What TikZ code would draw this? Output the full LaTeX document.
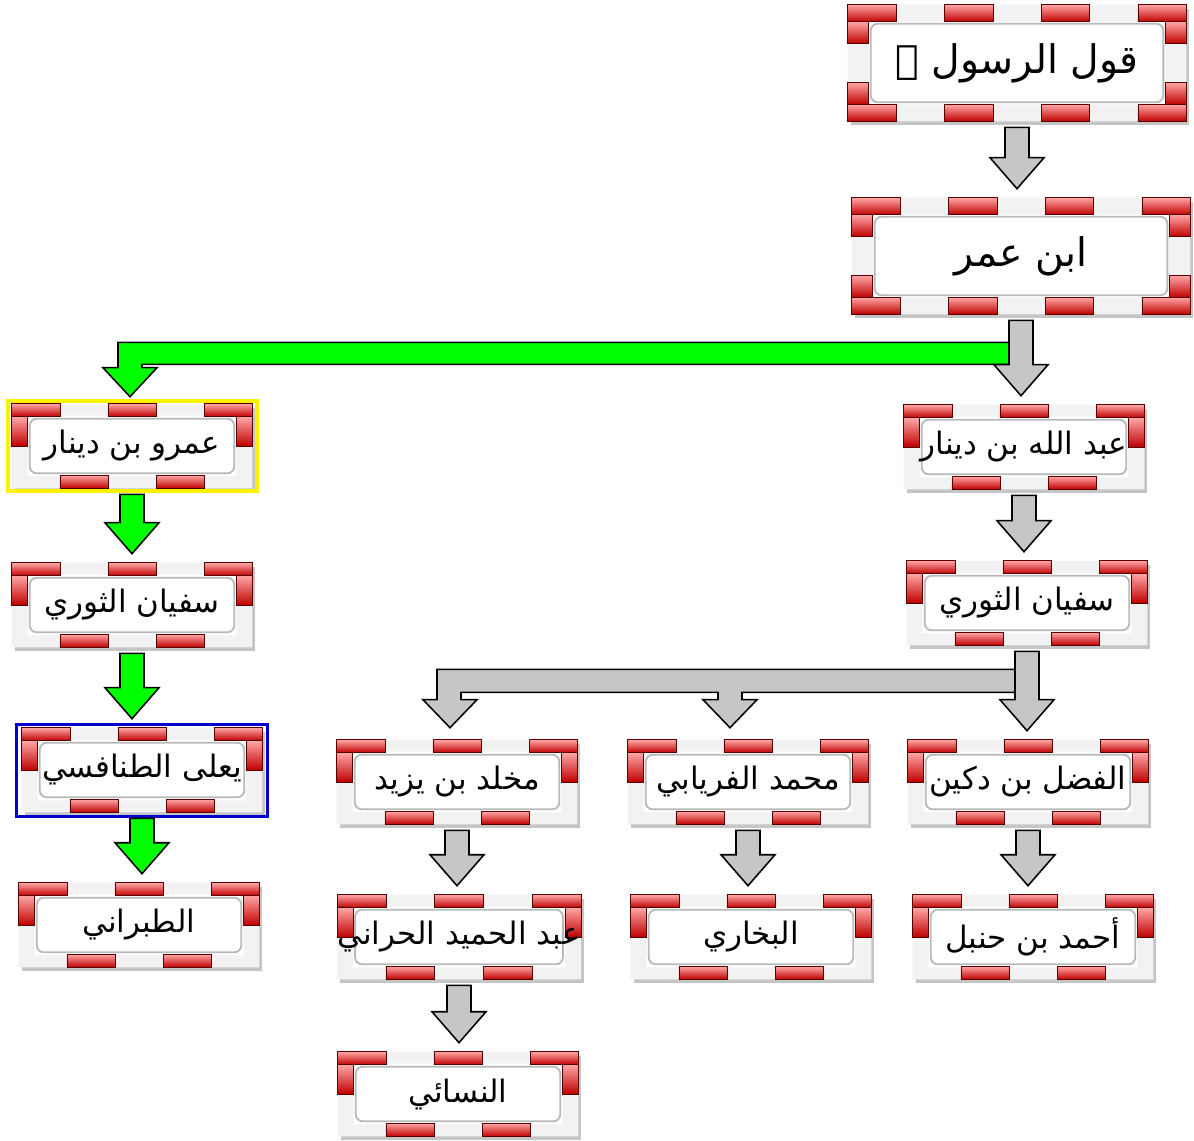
\documentclass[tikz,border=0pt]{standalone}
\usepackage{fontspec}
\newfontfamily\arabicfont[Script=Arabic]{DejaVu Sans}
\TeXXeTstate=1
\usetikzlibrary{calc, backgrounds}

\begin{document}
\begin{tikzpicture}[x=0.025cm, y=-0.025cm,
  isnad/.style={rectangle, inner sep=0pt,
    minimum width=6cm, minimum height=2.1cm,
    font=\arabicfont\fontsize{22}{26}\selectfont},
  bigisnad/.style={isnad, minimum width=8.45cm, minimum height=2.9cm,
    font=\arabicfont\fontsize{28}{32}\selectfont},
  redband/.style={draw=red!35!black, line width=0.4pt, top color=red!35, bottom color=red!75!black},
  whiteband/.style={fill=gray!10},
  boxshadow/.style={fill=black!45, opacity=0.5},
  bevel/.style={draw=gray!55, line width=1.3pt, rounded corners=5pt},
  blockarrow/.style={draw=black, line width=1.1pt, line join=miter},
  grayarrow/.style={blockarrow, fill=gray!45},
  greenarrow/.style={blockarrow, fill=green}]

  % Canvas
  \useasboundingbox (0,0) rectangle (1194,1140);

  % First two links
  \node[bigisnad] (rasul) at (1017,63) {\beginR قول الرسول ﷺ\endR};
  \node[bigisnad] (umar) at (1021,256) {\beginR ابن عمر\endR};

  % Right chain
  \node[isnad] (abdallah) at (1024,447) {\beginR عبد الله بن دينار\endR};
  \node[isnad] (sufyanR) at (1027,603) {\beginR سفيان الثوري\endR};
  \node[isnad] (fadl) at (1028,782) {\beginR الفضل بن دكين\endR};
  \node[isnad] (muhammad) at (748,782) {\beginR محمد الفريابي\endR};
  \node[isnad] (mukhallad) at (457,782) {\beginR مخلد بن يزيد\endR};
  \node[isnad] (ahmad) at (1033,937) {\beginR أحمد بن حنبل\endR};
  \node[isnad] (bukhari) at (751,937) {\beginR البخاري\endR};
  \node[isnad] (hamid) at (459,937) {\beginR عبد الحميد الحراني\endR};
  \node[isnad] (nasai) at (458,1094) {\beginR النسائي\endR};

  % Left chain
  \node[isnad] (amr) at (132,446) {\beginR عمرو بن دينار\endR};
  \node[isnad] (sufyanL) at (132,605) {\beginR سفيان الثوري\endR};
  \node[isnad] (yala) at (142,770) {\beginR يعلى الطنافسي\endR};
  \node[isnad] (tabarani) at (139,925) {\beginR الطبراني\endR};

  \begin{scope}[on background layer]
  \fill[white] (0,0) rectangle (1194,1140);

  % Frames of the small boxes
  \foreach \n in {abdallah, sufyanR, fadl, muhammad, mukhallad, ahmad, bukhari, hamid, nasai,
                  amr, sufyanL, yala, tabarani} {
    \fill[boxshadow] ($(\n.north west)+(3,4)$) rectangle ($(\n.south east)+(3,4)$);
    \fill[white] (\n.north west) rectangle (\n.south east);
    \fill[whiteband, even odd rule] (\n.north west) rectangle (\n.south east)
      ($(\n.north west)+(16,12)$) rectangle ($(\n.south east)+(-16,-12)$);
    \foreach \i in {0,2,4}
      \draw[redband] ($(\n.north west)!{\i/5}!(\n.north east)$) rectangle ($(\n.north west)!{(\i+1)/5}!(\n.north east)+(0,13)$);
    \foreach \i in {1,3}
      \draw[redband] ($(\n.south west)!{\i/5}!(\n.south east)+(0,-13)$) rectangle ($(\n.south west)!{(\i+1)/5}!(\n.south east)$);
    \draw[redband] ($(\n.north west)+(0,13)$) rectangle ($(\n.west)+(16,0)$);
    \draw[redband] ($(\n.north east)+(0,13)$) rectangle ($(\n.east)+(-16,0)$);
    \draw[bevel] ($(\n.north west)+(18,15)$) rectangle ($(\n.south east)+(-18,-15)$);
  }

  % Frames of the two big boxes
  \foreach \n in {rasul, umar} {
    \fill[boxshadow] ($(\n.north west)+(3,4)$) rectangle ($(\n.south east)+(3,4)$);
    \fill[white] (\n.north west) rectangle (\n.south east);
    \fill[whiteband, even odd rule] (\n.north west) rectangle (\n.south east)
      ($(\n.north west)+(21,17)$) rectangle ($(\n.south east)+(-21,-17)$);
    \foreach \i in {0,2,4,6} {
      \draw[redband] ($(\n.north west)!{\i/7}!(\n.north east)$) rectangle ($(\n.north west)!{(\i+1)/7}!(\n.north east)+(0,17)$);
      \draw[redband] ($(\n.south west)!{\i/7}!(\n.south east)+(0,-17)$) rectangle ($(\n.south west)!{(\i+1)/7}!(\n.south east)$);
    }
    \draw[redband] ($(\n.north west)+(0,17)$) rectangle ($(\n.north west)!{1/3}!(\n.south west)+(21,0)$);
    \draw[redband] ($(\n.north east)+(0,17)$) rectangle ($(\n.north east)!{1/3}!(\n.south east)+(-21,0)$);
    \draw[redband] ($(\n.south west)!{1/3}!(\n.north west)$) rectangle ($(\n.south west)+(21,-17)$);
    \draw[redband] ($(\n.south east)!{1/3}!(\n.north east)$) rectangle ($(\n.south east)+(-21,-17)$);
    \draw[bevel] ($(\n.north west)+(23,19)$) rectangle ($(\n.south east)+(-23,-19)$);
  }
  \end{scope}

  % Highlight rectangles
  \draw[yellow, line width=2.6pt] ($(amr.north west)+(-4,-3)$) rectangle ($(amr.south east)+(5,3)$);
  \draw[blue!80!black, line width=2pt] ($(yala.north west)+(-5,-3)$) rectangle ($(yala.south east)+(5,4)$);

  % Branch from ibn Umar to Amr (green)
  \coordinate (gbar) at ($(umar.south)+(0,28)$);
  \coordinate (tipA) at ($(amr.north)+(-2,-7)$);
  \draw[greenarrow] ($(gbar)+(-10,0)$) -- ($(tipA|-gbar)+(-12,0)$) -- ($(tipA)+(-12,-29)$)
    -- ($(tipA)+(-27,-29)$) -- (tipA) -- ($(tipA)+(27,-29)$) -- ($(tipA)+(12,-29)$)
    -- ($(tipA|-gbar)+(12,22)$) -- ($(gbar)+(-10,22)$) -- cycle;

  % Branch from Sufyan to Mukhallad and Muhammad (gray)
  \coordinate (sbar) at ($(sufyanR.south)+(0,24)$);
  \coordinate (tipL) at ($(mukhallad.north)+(-7,-12)$);
  \coordinate (tipM) at ($(muhammad.north)+(-18,-12)$);
  \draw[grayarrow] ($(sbar)+(-10,0)$) -- ($(tipL|-sbar)+(-13,0)$) -- ($(tipL)+(-13,-28)$)
    -- ($(tipL)+(-27,-28)$) -- (tipL) -- ($(tipL)+(27,-28)$) -- ($(tipL)+(11,-28)$)
    -- ($(tipL|-sbar)+(11,23)$) -- ($(tipM|-sbar)+(-12,23)$) -- ($(tipM)+(-12,-28)$)
    -- ($(tipM)+(-27,-28)$) -- (tipM) -- ($(tipM)+(27,-28)$) -- ($(tipM)+(12,-28)$)
    -- ($(tipM|-sbar)+(12,23)$) -- ($(sbar)+(-10,23)$) -- cycle;

  % Straight arrows
  \foreach \a/\b/\c in {rasul/umar/grayarrow, umar/abdallah/grayarrow, abdallah/sufyanR/grayarrow,
                        sufyanR/fadl/grayarrow, fadl/ahmad/grayarrow, muhammad/bukhari/grayarrow,
                        mukhallad/hamid/grayarrow, hamid/nasai/grayarrow,
                        amr/sufyanL/greenarrow, sufyanL/yala/greenarrow, yala/tabarani/greenarrow}
    \draw[\c] ($(\a.south)+(-12,6)$) -- ($(\a.south|-\b.north)+(-12,-40)$) -- ($(\a.south|-\b.north)+(-27,-40)$)
      -- ($(\a.south|-\b.north)+(0,-9)$) -- ($(\a.south|-\b.north)+(27,-40)$) -- ($(\a.south|-\b.north)+(12,-40)$)
      -- ($(\a.south)+(12,6)$) -- cycle;

\end{tikzpicture}
\end{document}
